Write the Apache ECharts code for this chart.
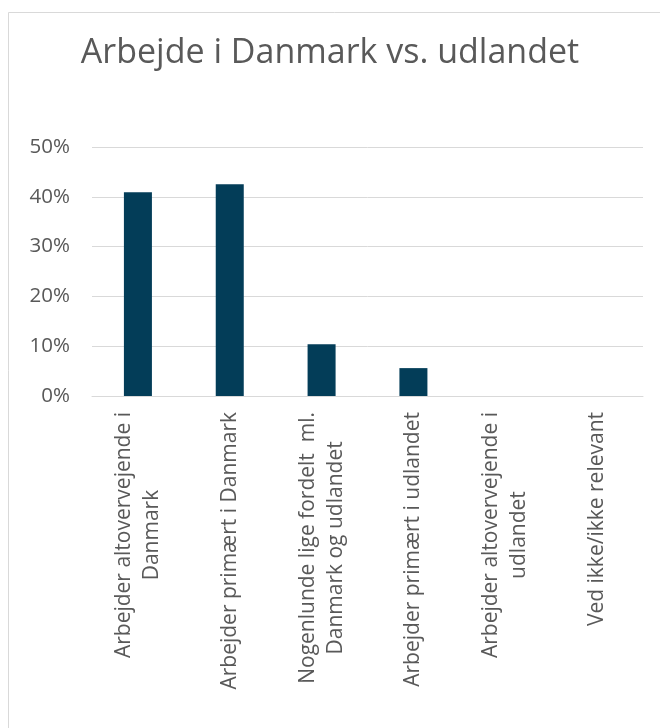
<!DOCTYPE html>
<html>
<head>
<meta charset="utf-8">
<script src="https://cdn.jsdelivr.net/npm/echarts@6/dist/echarts.min.js"></script>
<style>
html,body{margin:0;padding:0;background:#fff;}
#chart{width:660px;height:728px;}
</style>
</head>
<body>
<div id="chart"></div>
<script>
var titleText = 'Arbejde i Danmark vs. udlandet';
var categories = [
  ['Arbejder altovervejende i', 'Danmark'],
  ['Arbejder primært i Danmark'],
  ['Nogenlunde lige fordelt  ml.', 'Danmark og udlandet'],
  ['Arbejder primært i udlandet'],
  ['Arbejder altovervejende i', 'udlandet'],
  ['Ved ikke/ikke relevant']
];
var values = [40.9, 42.5, 10.4, 5.6, 0, 0];
var yTicks = [0, 10, 20, 30, 40, 50];

var FONT = 'Open Sans';
var chart = echarts.init(document.getElementById('chart'));
chart.setOption({
  animation: false,
  backgroundColor: '#ffffff',
  graphic: [{
    type: 'rect',
    shape: {x: 8.5, y: 12.5, width: 800, height: 900},
    style: {fill: 'none', stroke: '#d9d9d9', lineWidth: 1},
    silent: true, z: -1
  }],
  title: {
    text: titleText,
    left: 'center',
    top: 31,
    textStyle: {fontFamily: FONT, fontSize: 34, fontWeight: 'normal', color: '#595959'}
  },
  grid: {left: 92, right: 17, top: 147, bottom: 332, containLabel: false},
  xAxis: {
    type: 'category',
    data: categories.map(function (c) { return c.join('\n'); }),
    axisLine: {show: true, lineStyle: {color: '#d9d9d9', width: 1}},
    axisTick: {show: false},
    axisLabel: {
      interval: 0,
      rotate: 90,
      margin: 16,
      color: '#595959',
      fontFamily: FONT,
      fontSize: 21,
      lineHeight: 28,
      formatter: function (v) {
        return v.split('\n').map(function (s) { return '{c|' + s + '}'; }).join('\n');
      },
      rich: {c: {align: 'center', fontFamily: FONT, fontSize: 21, lineHeight: 28, color: '#595959'}}
    }
  },
  yAxis: {
    type: 'value',
    min: yTicks[0],
    max: yTicks[yTicks.length - 1],
    interval: 10,
    axisLine: {show: false},
    axisTick: {show: false},
    splitLine: {lineStyle: {color: '#d9d9d9', width: 1}},
    axisLabel: {
      margin: 22,
      color: '#595959',
      fontFamily: FONT,
      fontSize: 20.5,
      formatter: '{value}%'
    }
  },
  series: [{
    type: 'bar',
    data: values,
    barWidth: '30.5%',
    itemStyle: {color: '#033d58'}
  }]
});
</script>
</body>
</html>
